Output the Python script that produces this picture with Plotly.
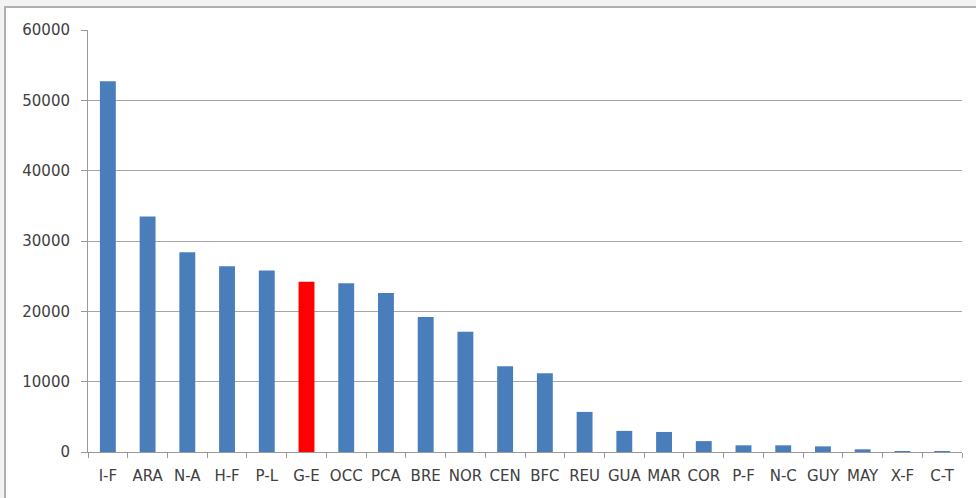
import plotly.graph_objects as go

categories = ["I-F", "ARA", "N-A", "H-F", "P-L", "G-E", "OCC", "PCA", "BRE", "NOR", "CEN",
              "BFC", "REU", "GUA", "MAR", "COR", "P-F", "N-C", "GUY", "MAY", "X-F", "C-T"]
values = [52700, 33500, 28400, 26400, 25800, 24200, 24000, 22600, 19200, 17100, 12200,
          11200, 5700, 3000, 2850, 1550, 950, 950, 800, 380, 120, 80]
highlight = "G-E"

blue = "#4a7ebb"
red = "#ff0000"
colors = [red if c == highlight else blue for c in categories]

fig = go.Figure(go.Bar(x=categories, y=values, marker=dict(color=colors, line=dict(width=0)),
                       width=0.4))

W, H = 976, 498
L, R, T, B = 88, 14, 30, 46
pw, ph = W - L - R, H - T - B

def px_to_paper_x(px):
    return (px - L) / pw

def px_to_paper_y(py):
    return (H - B - py) / ph

fig.add_shape(type="rect", xref="paper", yref="paper",
              x0=px_to_paper_x(5), x1=px_to_paper_x(990),
              y0=px_to_paper_y(510), y1=px_to_paper_y(7),
              line=dict(color="#b0b0b0", width=2), fillcolor="white", layer="below")

font = dict(family="DejaVu Sans", size=15, color="#404040")

fig.update_layout(
    width=W, height=H,
    margin=dict(l=L, r=R, t=T, b=B),
    paper_bgcolor="#f3f3f3",
    plot_bgcolor="rgba(0,0,0,0)",
    showlegend=False,
    bargap=0.6,
    font=font,
    xaxis=dict(type="category", tickson="boundaries", ticks="outside", ticklen=5,
               tickcolor="#999999", showline=True, linecolor="#999999", linewidth=1,
               showgrid=False, tickfont=font, tickangle=0, ticklabelstandoff=10),
    yaxis=dict(range=[0, 60000], dtick=10000, ticks="outside", ticklen=6,
               tickcolor="#999999", showline=True, linecolor="#999999", linewidth=1,
               showgrid=True, gridcolor="#a6a6a6", gridwidth=1, zeroline=False,
               tickfont=font, tickformat="d", ticklabelstandoff=8),
)

fig.write_html("out.html", config={"displayModeBar": False},
               post_script="document.body.style.margin='0';document.body.style.overflow='hidden';")
